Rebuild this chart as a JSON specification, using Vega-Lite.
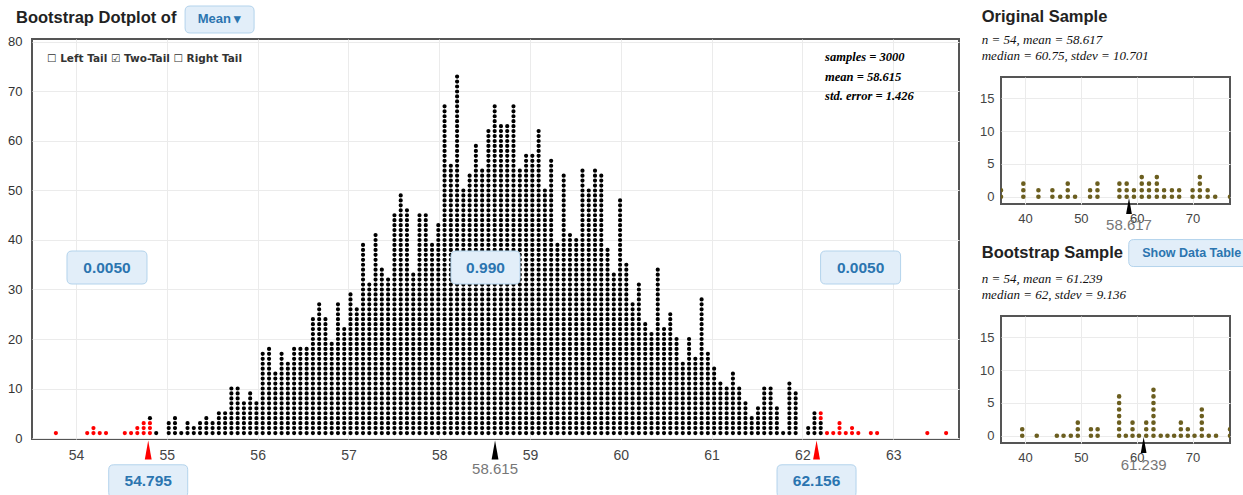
{
"$schema":"https://vega.github.io/schema/vega-lite/v6.json",
"background":"white",
"padding":{"left":6,"top":3,"right":0,"bottom":0},
"config":{"view":{"stroke":"#555555","strokeWidth":2},"axis":{"gridColor":"#ebebeb","ticks":false,"domain":false,"title":null,"labelFont":"Liberation Sans"}},
"datasets":{
"boot":[
{"x":53.778,"lo":0,"hi":1,"t":"r"},{"x":54.123,"lo":0,"hi":1,"t":"r"},{"x":54.192,"lo":0,"hi":2,"t":"r"},{"x":54.261,"lo":0,"hi":1,"t":"r"},{"x":54.330,"lo":0,"hi":1,"t":"r"},{"x":54.537,"lo":0,"hi":1,"t":"r"},{"x":54.606,"lo":0,"hi":1,"t":"r"},{"x":54.675,"lo":0,"hi":2,"t":"r"},{"x":54.745,"lo":0,"hi":3,"t":"r"},{"x":54.814,"lo":0,"hi":3,"t":"r"},{"x":54.814,"lo":3,"hi":4,"t":"b"},
{"x":54.883,"lo":0,"hi":1,"t":"b"},{"x":55.021,"lo":0,"hi":3,"t":"b"},{"x":55.090,"lo":0,"hi":4,"t":"b"},{"x":55.159,"lo":0,"hi":1,"t":"b"},{"x":55.228,"lo":0,"hi":3,"t":"b"},{"x":55.297,"lo":0,"hi":2,"t":"b"},{"x":55.366,"lo":0,"hi":3,"t":"b"},{"x":55.435,"lo":0,"hi":4,"t":"b"},{"x":55.504,"lo":0,"hi":3,"t":"b"},{"x":55.573,"lo":0,"hi":5,"t":"b"},
{"x":55.642,"lo":0,"hi":5,"t":"b"},{"x":55.711,"lo":0,"hi":10,"t":"b"},{"x":55.780,"lo":0,"hi":10,"t":"b"},{"x":55.849,"lo":0,"hi":7,"t":"b"},{"x":55.918,"lo":0,"hi":9,"t":"b"},{"x":55.987,"lo":0,"hi":7,"t":"b"},{"x":56.056,"lo":0,"hi":17,"t":"b"},{"x":56.126,"lo":0,"hi":18,"t":"b"},{"x":56.195,"lo":0,"hi":13,"t":"b"},{"x":56.264,"lo":0,"hi":17,"t":"b"},
{"x":56.333,"lo":0,"hi":15,"t":"b"},{"x":56.402,"lo":0,"hi":18,"t":"b"},{"x":56.471,"lo":0,"hi":18,"t":"b"},{"x":56.540,"lo":0,"hi":18,"t":"b"},{"x":56.609,"lo":0,"hi":24,"t":"b"},{"x":56.678,"lo":0,"hi":27,"t":"b"},{"x":56.747,"lo":0,"hi":24,"t":"b"},{"x":56.816,"lo":0,"hi":19,"t":"b"},{"x":56.885,"lo":0,"hi":27,"t":"b"},{"x":56.954,"lo":0,"hi":22,"t":"b"},
{"x":57.023,"lo":0,"hi":29,"t":"b"},{"x":57.092,"lo":0,"hi":26,"t":"b"},{"x":57.161,"lo":0,"hi":39,"t":"b"},{"x":57.230,"lo":0,"hi":31,"t":"b"},{"x":57.299,"lo":0,"hi":41,"t":"b"},{"x":57.368,"lo":0,"hi":34,"t":"b"},{"x":57.437,"lo":0,"hi":32,"t":"b"},{"x":57.507,"lo":0,"hi":45,"t":"b"},{"x":57.576,"lo":0,"hi":49,"t":"b"},{"x":57.645,"lo":0,"hi":46,"t":"b"},
{"x":57.714,"lo":0,"hi":33,"t":"b"},{"x":57.783,"lo":0,"hi":45,"t":"b"},{"x":57.852,"lo":0,"hi":45,"t":"b"},{"x":57.921,"lo":0,"hi":39,"t":"b"},{"x":57.990,"lo":0,"hi":43,"t":"b"},{"x":58.059,"lo":0,"hi":67,"t":"b"},{"x":58.128,"lo":0,"hi":55,"t":"b"},{"x":58.197,"lo":0,"hi":73,"t":"b"},{"x":58.266,"lo":0,"hi":50,"t":"b"},{"x":58.335,"lo":0,"hi":53,"t":"b"},
{"x":58.404,"lo":0,"hi":59,"t":"b"},{"x":58.473,"lo":0,"hi":54,"t":"b"},{"x":58.542,"lo":0,"hi":62,"t":"b"},{"x":58.611,"lo":0,"hi":67,"t":"b"},{"x":58.680,"lo":0,"hi":63,"t":"b"},{"x":58.749,"lo":0,"hi":63,"t":"b"},{"x":58.818,"lo":0,"hi":67,"t":"b"},{"x":58.888,"lo":0,"hi":54,"t":"b"},{"x":58.957,"lo":0,"hi":57,"t":"b"},{"x":59.026,"lo":0,"hi":57,"t":"b"},
{"x":59.095,"lo":0,"hi":62,"t":"b"},{"x":59.164,"lo":0,"hi":50,"t":"b"},{"x":59.233,"lo":0,"hi":56,"t":"b"},{"x":59.302,"lo":0,"hi":39,"t":"b"},{"x":59.371,"lo":0,"hi":53,"t":"b"},{"x":59.440,"lo":0,"hi":41,"t":"b"},{"x":59.509,"lo":0,"hi":40,"t":"b"},{"x":59.578,"lo":0,"hi":54,"t":"b"},{"x":59.647,"lo":0,"hi":50,"t":"b"},{"x":59.716,"lo":0,"hi":54,"t":"b"},
{"x":59.785,"lo":0,"hi":53,"t":"b"},{"x":59.854,"lo":0,"hi":38,"t":"b"},{"x":59.923,"lo":0,"hi":33,"t":"b"},{"x":59.992,"lo":0,"hi":48,"t":"b"},{"x":60.061,"lo":0,"hi":35,"t":"b"},{"x":60.130,"lo":0,"hi":27,"t":"b"},{"x":60.199,"lo":0,"hi":31,"t":"b"},{"x":60.269,"lo":0,"hi":23,"t":"b"},{"x":60.338,"lo":0,"hi":21,"t":"b"},{"x":60.407,"lo":0,"hi":34,"t":"b"},
{"x":60.476,"lo":0,"hi":22,"t":"b"},{"x":60.545,"lo":0,"hi":25,"t":"b"},{"x":60.614,"lo":0,"hi":20,"t":"b"},{"x":60.683,"lo":0,"hi":15,"t":"b"},{"x":60.752,"lo":0,"hi":20,"t":"b"},{"x":60.821,"lo":0,"hi":16,"t":"b"},{"x":60.890,"lo":0,"hi":28,"t":"b"},{"x":60.959,"lo":0,"hi":17,"t":"b"},{"x":61.028,"lo":0,"hi":14,"t":"b"},{"x":61.097,"lo":0,"hi":11,"t":"b"},
{"x":61.166,"lo":0,"hi":10,"t":"b"},{"x":61.235,"lo":0,"hi":13,"t":"b"},{"x":61.304,"lo":0,"hi":10,"t":"b"},{"x":61.373,"lo":0,"hi":7,"t":"b"},{"x":61.442,"lo":0,"hi":4,"t":"b"},{"x":61.511,"lo":0,"hi":6,"t":"b"},{"x":61.580,"lo":0,"hi":10,"t":"b"},{"x":61.650,"lo":0,"hi":10,"t":"b"},{"x":61.719,"lo":0,"hi":6,"t":"b"},{"x":61.788,"lo":0,"hi":1,"t":"b"},
{"x":61.857,"lo":0,"hi":11,"t":"b"},{"x":61.926,"lo":0,"hi":9,"t":"b"},{"x":62.064,"lo":0,"hi":2,"t":"b"},{"x":62.133,"lo":0,"hi":5,"t":"b"},{"x":62.202,"lo":0,"hi":3,"t":"b"},{"x":62.202,"lo":3,"hi":5,"t":"r"},
{"x":62.271,"lo":0,"hi":1,"t":"r"},{"x":62.340,"lo":0,"hi":1,"t":"r"},{"x":62.409,"lo":0,"hi":3,"t":"r"},{"x":62.478,"lo":0,"hi":1,"t":"r"},{"x":62.547,"lo":0,"hi":2,"t":"r"},{"x":62.616,"lo":0,"hi":1,"t":"r"},{"x":62.754,"lo":0,"hi":1,"t":"r"},{"x":62.823,"lo":0,"hi":1,"t":"r"},{"x":63.376,"lo":0,"hi":1,"t":"r"},{"x":63.583,"lo":0,"hi":1,"t":"r"}
],
"orig":[
{"x":35.7,"n":2},{"x":39.7,"n":3},{"x":42.4,"n":2},{"x":44.9,"n":2},{"x":46.3,"n":1},{"x":47.65,"n":3},{"x":48.96,"n":1},{"x":51.65,"n":2},{"x":52.97,"n":3},{"x":56.9,"n":3},{"x":58.2,"n":3},{"x":59.5,"n":2},{"x":60.9,"n":4},{"x":62.2,"n":3},{"x":63.6,"n":4},{"x":64.9,"n":2},{"x":66.3,"n":2},{"x":67.6,"n":2},{"x":70.0,"n":2},{"x":71.3,"n":4},{"x":72.7,"n":2},{"x":74.05,"n":1},{"x":76.7,"n":1}
],
"bsamp":[
{"x":39.5,"n":2},{"x":42.1,"n":1},{"x":45.7,"n":1},{"x":46.9,"n":1},{"x":48.2,"n":1},{"x":49.45,"n":3},{"x":51.8,"n":2},{"x":53.0,"n":2},{"x":56.85,"n":7},{"x":58.05,"n":1},{"x":59.25,"n":3},{"x":60.4,"n":1},{"x":61.7,"n":3},{"x":63.0,"n":8},{"x":64.3,"n":1},{"x":65.5,"n":1},{"x":66.7,"n":1},{"x":67.9,"n":3},{"x":69.15,"n":2},{"x":70.35,"n":1},{"x":71.65,"n":5},{"x":72.9,"n":1},{"x":74.2,"n":1},{"x":76.7,"n":2}
],
"marks":[{"v":54.795,"c":"r"},{"v":58.615,"c":"b"},{"v":62.156,"c":"r"}],
"cuts":[{"v":54.795},{"v":62.156}]
},
"spacing":18,
"hconcat":[
{"width":927,"height":400,
"layer":[
{"data":{"name":"boot"},"mark":{"type":"rule","strokeWidth":4.2,"strokeCap":"round","strokeDash":[0,4.9505],"y2Offset":-2.5},
"encoding":{
"x":{"field":"x","type":"quantitative","scale":{"domain":[53.515,63.725],"nice":false,"zero":false},"axis":{"values":[54,55,56,57,58,59,60,61,62,63],"format":"d","labelFontSize":14,"labelColor":"#444444","labelPadding":9}},
"y":{"field":"hi","type":"quantitative","scale":{"domain":[-0.2,80.6],"nice":false,"zero":false},"axis":{"values":[0,10,20,30,40,50,60,70,80],"format":"d","labelFontSize":13,"labelColor":"#333333","labelPadding":10}},
"y2":{"field":"lo"},
"color":{"field":"t","type":"nominal","scale":{"domain":["b","r"],"range":["#000000","#ff0000"]},"legend":null}}},
{"data":{"name":"marks"},"mark":{"type":"point","shape":"M 0 -1 L 0.36 1 L -0.36 1 Z","size":361,"filled":true,"opacity":1},
"encoding":{"x":{"field":"v","type":"quantitative"},"y":{"datum":-2.42},"color":{"field":"c","type":"nominal","legend":null}}},
{"data":{"values":[{}]},"mark":{"type":"text","text":"58.615","font":"Liberation Sans","fontSize":15,"color":"#777777"},"encoding":{"x":{"datum":58.615},"y":{"datum":-6.36}}},
{"data":{"name":"cuts"},"mark":{"type":"point","shape":"M -0.875 -0.4125 L 0.875 -0.4125 Q 1 -0.4125 1 -0.2875 L 1 0.2875 Q 1 0.4125 0.875 0.4125 L -0.875 0.4125 Q -1 0.4125 -1 0.2875 L -1 -0.2875 Q -1 -0.4125 -0.875 -0.4125 Z","size":6241,"filled":true,"fill":"#e2eef9","stroke":"#b3d3ec","strokeWidth":1,"opacity":1},
"encoding":{"x":{"field":"v","type":"quantitative"},"y":{"datum":-8.7}}},
{"data":{"name":"cuts"},"mark":{"type":"text","font":"Liberation Sans","fontSize":15.5,"fontWeight":"bold","color":"#2b75b0"},
"encoding":{"x":{"field":"v","type":"quantitative"},"y":{"datum":-8.7},"text":{"field":"v","type":"quantitative","format":".3f"}}},
{"data":{"values":[{}]},"mark":{"type":"point","shape":"M -0.875 -0.4125 L 0.875 -0.4125 Q 1 -0.4125 1 -0.2875 L 1 0.2875 Q 1 0.4125 0.875 0.4125 L -0.875 0.4125 Q -1 0.4125 -1 0.2875 L -1 -0.2875 Q -1 -0.4125 -0.875 -0.4125 Z","size":6400,"filled":true,"fill":"#e2eef9","stroke":"#b3d3ec","strokeWidth":1,"opacity":1},"encoding":{"x":{"datum":54.341},"y":{"datum":34.44}}},
{"data":{"values":[{}]},"mark":{"type":"point","shape":"M -0.875 -0.4125 L 0.875 -0.4125 Q 1 -0.4125 1 -0.2875 L 1 0.2875 Q 1 0.4125 0.875 0.4125 L -0.875 0.4125 Q -1 0.4125 -1 0.2875 L -1 -0.2875 Q -1 -0.4125 -0.875 -0.4125 Z","size":6400,"filled":true,"fill":"#e2eef9","stroke":"#b3d3ec","strokeWidth":1,"opacity":1},"encoding":{"x":{"datum":62.641},"y":{"datum":34.44}}},
{"data":{"values":[{}]},"mark":{"type":"point","shape":"M -0.855 -0.478 L 0.855 -0.478 Q 1 -0.478 1 -0.333 L 1 0.333 Q 1 0.478 0.855 0.478 L -0.855 0.478 Q -1 0.478 -1 0.333 L -1 -0.333 Q -1 -0.478 -0.855 -0.478 Z","size":4761,"filled":true,"fill":"#e2eef9","stroke":"#b3d3ec","strokeWidth":1,"opacity":1},"encoding":{"x":{"datum":58.51},"y":{"datum":34.44}}},
{"data":{"values":[{}]},"mark":{"type":"text","text":"0.0050","font":"Liberation Sans","fontSize":15.5,"fontWeight":"bold","color":"#2b75b0"},"encoding":{"x":{"datum":54.341},"y":{"datum":34.44}}},
{"data":{"values":[{}]},"mark":{"type":"text","text":"0.0050","font":"Liberation Sans","fontSize":15.5,"fontWeight":"bold","color":"#2b75b0"},"encoding":{"x":{"datum":62.641},"y":{"datum":34.44}}},
{"data":{"values":[{}]},"mark":{"type":"text","text":"0.990","font":"Liberation Sans","fontSize":15.5,"fontWeight":"bold","color":"#2b75b0"},"encoding":{"x":{"datum":58.51},"y":{"datum":34.44}}},
{"data":{"values":[{}]},"mark":{"type":"point","shape":"M -0.855 -0.391 L 0.855 -0.391 Q 1 -0.391 1 -0.246 L 1 0.246 Q 1 0.391 0.855 0.391 L -0.855 0.391 Q -1 0.391 -1 0.246 L -1 -0.246 Q -1 -0.391 -0.855 -0.391 Z","size":4761,"filled":true,"fill":"#e2eef9","stroke":"#b3d3ec","strokeWidth":1,"opacity":1},"encoding":{"x":{"datum":55.581},"y":{"datum":84.54}}},
{"data":{"values":[{}]},"mark":{"type":"text","text":"Mean ▾","font":"Liberation Sans","fontSize":13,"fontWeight":"bold","color":"#2b75b0"},"encoding":{"x":{"datum":55.581},"y":{"datum":84.54}}},
{"data":{"values":[{}]},"mark":{"type":"text","text":"Bootstrap Dotplot of","font":"Liberation Sans","fontSize":16.5,"fontWeight":"bold","color":"#222222","align":"left"},"encoding":{"x":{"datum":53.339},"y":{"datum":84.84}}},
{"data":{"values":[{}]},"mark":{"type":"text","text":"☐ Left Tail  ☑ Two-Tail  ☐ Right Tail","font":"DejaVu Sans","fontSize":10.5,"fontWeight":"bold","color":"#333333","align":"left"},"encoding":{"x":{"datum":53.681},"y":{"datum":76.56}}},
{"data":{"values":[{}]},"mark":{"type":"text","text":["samples = 3000","mean = 58.615","std. error = 1.426"],"lineHeight":19.7,"font":"Liberation Serif","fontSize":12.5,"fontWeight":"bold","fontStyle":"italic","color":"#000000","align":"left"},"encoding":{"x":{"datum":62.25},"y":{"datum":76.96}}}
]},
{"spacing":13,"vconcat":[
{"width":229,"height":24,"view":{"stroke":null},
"layer":[
{"data":{"values":[{}]},"mark":{"type":"text","text":"Original Sample","font":"Liberation Sans","fontSize":16.5,"fontWeight":"bold","color":"#222222","align":"left"},"encoding":{"x":{"datum":32.25,"type":"quantitative","scale":{"domain":[35.7,76.7],"nice":false,"zero":false},"axis":null},"y":{"datum":46,"type":"quantitative","scale":{"domain":[0,24],"nice":false,"zero":false},"axis":null}}},
{"data":{"values":[{}]},"mark":{"type":"text","text":["n = 54, mean = 58.617","median = 60.75, stdev = 10.701"],"lineHeight":16,"font":"Liberation Serif","fontSize":13,"fontStyle":"italic","color":"#111111","align":"left"},"encoding":{"x":{"datum":32.25,"type":"quantitative"},"y":{"datum":23,"type":"quantitative"}}}
]},
{"spacing":2,"vconcat":[
{"width":229,"height":127,
"layer":[
{"data":{"name":"orig"},"mark":{"type":"rule","strokeWidth":4.6,"strokeCap":"round","strokeDash":[0,6.563],"yOffset":6.563,"y2Offset":2,"color":"#6b5e1f","clip":true},
"encoding":{
"x":{"field":"x","type":"quantitative","scale":{"domain":[35.7,76.7],"nice":false,"zero":false},"axis":{"values":[40,50,60,70],"format":"d","labelFontSize":13,"labelColor":"#444444","labelPadding":8}},
"y":{"field":"n","type":"quantitative","scale":{"domain":[-1.1,18.25],"nice":false,"zero":false},"axis":{"values":[0,5,10,15],"format":"d","labelFontSize":13,"labelColor":"#444444","labelPadding":7}},
"y2":{"datum":0}}},
{"data":{"values":[{}]},"mark":{"type":"point","shape":"M 0 -1 L 0.36 1 L -0.36 1 Z","size":256,"filled":true,"opacity":1,"color":"#000000"},"encoding":{"x":{"datum":58.617},"y":{"datum":-1.4}}},
{"data":{"values":[{}]},"mark":{"type":"text","text":"58.617","font":"Liberation Sans","fontSize":15,"color":"#777777"},"encoding":{"x":{"datum":58.617},"y":{"datum":-4.24}}}
]},
{"width":229,"height":127,
"layer":[
{"data":{"name":"bsamp"},"mark":{"type":"rule","strokeWidth":4.6,"strokeCap":"round","strokeDash":[0,6.563],"yOffset":6.563,"y2Offset":2,"color":"#6b5e1f","clip":true},
"encoding":{
"x":{"field":"x","type":"quantitative","scale":{"domain":[35.7,76.7],"nice":false,"zero":false},"axis":{"values":[40,50,60,70],"format":"d","labelFontSize":13,"labelColor":"#444444","labelPadding":8}},
"y":{"field":"n","type":"quantitative","scale":{"domain":[-1.1,18.25],"nice":false,"zero":false},"axis":{"values":[0,5,10,15],"format":"d","labelFontSize":13,"labelColor":"#444444","labelPadding":7}},
"y2":{"datum":0}}},
{"data":{"values":[{}]},"mark":{"type":"point","shape":"M 0 -1 L 0.36 1 L -0.36 1 Z","size":256,"filled":true,"opacity":1,"color":"#000000"},"encoding":{"x":{"datum":61.239},"y":{"datum":-1.42}}},
{"data":{"values":[{}]},"mark":{"type":"text","text":"61.239","font":"Liberation Sans","fontSize":15,"color":"#777777"},"encoding":{"x":{"datum":61.239},"y":{"datum":-4.47}}},
{"data":{"values":[{}]},"mark":{"type":"text","text":"Bootstrap Sample","font":"Liberation Sans","fontSize":16.5,"fontWeight":"bold","color":"#222222","align":"left"},"encoding":{"x":{"datum":32.25},"y":{"datum":27.92}}},
{"data":{"values":[{}]},"mark":{"type":"point","shape":"M -0.921 -0.214 L 0.921 -0.214 Q 1 -0.214 1 -0.135 L 1 0.135 Q 1 0.214 0.921 0.214 L -0.921 0.214 Q -1 0.214 -1 0.135 L -1 -0.135 Q -1 -0.214 -0.921 -0.214 Z","size":15876,"filled":true,"fill":"#e2eef9","stroke":"#b3d3ec","strokeWidth":1,"opacity":1},"encoding":{"x":{"datum":69.85},"y":{"datum":27.84}}},
{"data":{"values":[{}]},"mark":{"type":"text","text":"Show Data Table","font":"Liberation Sans","fontSize":12.5,"fontWeight":"bold","color":"#2b75b0"},"encoding":{"x":{"datum":69.85},"y":{"datum":27.84}}},
{"data":{"values":[{}]},"mark":{"type":"text","text":["n = 54, mean = 61.239","median = 62, stdev = 9.136"],"lineHeight":16.5,"font":"Liberation Serif","fontSize":13,"fontStyle":"italic","color":"#111111","align":"left"},"encoding":{"x":{"datum":32.25},"y":{"datum":23.89}}}
]}
]}
]}
]
}
